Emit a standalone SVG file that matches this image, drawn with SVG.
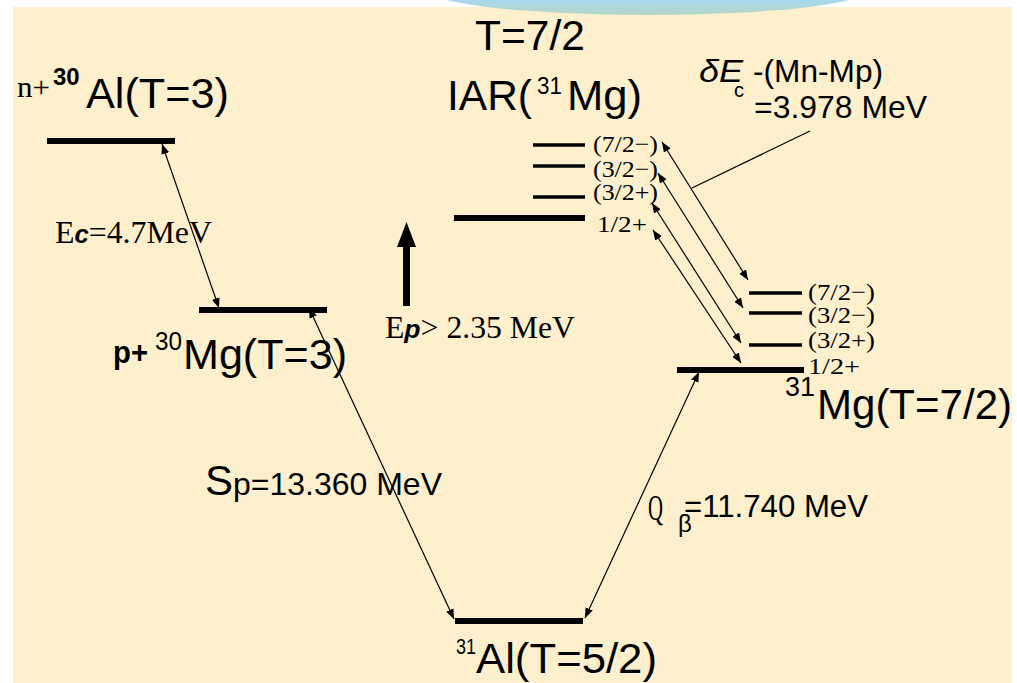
<svg xmlns="http://www.w3.org/2000/svg" width="1017" height="683" viewBox="0 0 1017 683">
<defs>
<linearGradient id="blueg" x1="0" y1="0" x2="0" y2="1">
<stop offset="0" stop-color="#9ed8fa"/>
<stop offset="0.7" stop-color="#a6d8f0"/>
<stop offset="1" stop-color="#b6d6c6"/>
</linearGradient>
<marker id="ah" viewBox="0 0 10 8" refX="10" refY="4" markerWidth="10" markerHeight="8" markerUnits="userSpaceOnUse" orient="auto-start-reverse">
<path d="M0,0 L10,4 L0,8 z" fill="#000"/>
</marker>
<style>
.sans{font-family:"Liberation Sans",Arial,sans-serif;fill:#000}
.serif{font-family:"Liberation Serif","Times New Roman",serif;fill:#000}
.big{font-size:43px}
.lvl{stroke:#000;stroke-width:6}
.sub{stroke:#000;stroke-width:3.5}
.spin{font-family:"Liberation Serif","Times New Roman",serif;font-size:24px;fill:#000}
.con{stroke:#000;stroke-width:1.2;fill:none;marker-start:url(#ah);marker-end:url(#ah)}
</style>
</defs>
<rect x="0" y="0" width="1017" height="683" fill="#ffffff"/>
<rect x="13" y="7" width="999" height="676" fill="#fff0cd"/>
<ellipse cx="648" cy="-11" rx="222" ry="26" fill="url(#blueg)"/>

<g id="connectors">
<line class="con" x1="162" y1="144" x2="219" y2="308"/>
<line class="con" x1="309" y1="308" x2="454" y2="619"/>
<line class="con" x1="585" y1="618" x2="699" y2="372"/>
<line class="con" x1="662" y1="142" x2="748" y2="280"/>
<line class="con" x1="658" y1="173" x2="743" y2="308"/>
<line class="con" x1="652" y1="203" x2="741" y2="343"/>
<line class="con" x1="653" y1="230" x2="741" y2="363"/>
<line x1="810" y1="131" x2="692" y2="188" stroke="#000" stroke-width="1.2"/>
</g>

<g id="n30Al">
<line class="lvl" x1="47" y1="141" x2="175" y2="141"/>
<text class="serif" x="17" y="97" font-size="30" textLength="33" lengthAdjust="spacingAndGlyphs">n+</text>
<text class="sans" x="53" y="85" font-size="24" font-weight="bold">30</text>
<text class="sans big" x="86" y="108" textLength="143" lengthAdjust="spacingAndGlyphs">Al(T=3)</text>
</g>

<g id="p30Mg">
<line class="lvl" x1="199" y1="310" x2="327" y2="310"/>
<text class="sans" x="113" y="363" font-size="31" font-weight="bold" textLength="35" lengthAdjust="spacingAndGlyphs">p+</text>
<text class="sans" x="155" y="350" font-size="25" textLength="27" lengthAdjust="spacingAndGlyphs">30</text>
<text class="sans big" x="183" y="369" textLength="164" lengthAdjust="spacingAndGlyphs">Mg(T=3)</text>
</g>

<g id="ec-label">
<text class="serif" x="55" y="243" font-size="31" textLength="157" lengthAdjust="spacingAndGlyphs">E<tspan class="sans" font-weight="bold" font-style="italic" font-size="25">c</tspan>=4.7MeV</text>
</g>

<g id="IAR">
<text class="sans" x="475" y="50" font-size="43" textLength="110" lengthAdjust="spacingAndGlyphs">T=7/2</text>
<text class="sans big" x="447" y="110" textLength="85" lengthAdjust="spacingAndGlyphs">IAR(</text>
<text class="sans" x="537" y="94" font-size="23" textLength="25" lengthAdjust="spacingAndGlyphs">31</text>
<text class="sans big" x="567" y="110" textLength="75" lengthAdjust="spacingAndGlyphs">Mg)</text>
<line class="sub" x1="533" y1="145" x2="585" y2="145"/>
<line class="sub" x1="533" y1="166" x2="585" y2="166"/>
<line class="sub" x1="533" y1="197" x2="585" y2="197"/>
<line class="lvl" x1="454" y1="218" x2="585" y2="218"/>
<text class="spin" x="593" y="152" textLength="65" lengthAdjust="spacingAndGlyphs">(7/2−)</text>
<text class="spin" x="593" y="177" textLength="65" lengthAdjust="spacingAndGlyphs">(3/2−)</text>
<text class="spin" x="593" y="200" textLength="65" lengthAdjust="spacingAndGlyphs">(3/2+)</text>
<text class="spin" x="597" y="232" textLength="50" lengthAdjust="spacingAndGlyphs">1/2+</text>
</g>

<g id="Ep-arrow">
<rect x="403" y="246" width="7" height="60" fill="#000"/>
<path d="M397,247 L406.5,222 L416,247 z" fill="#000"/>
<text class="serif" x="385" y="338" font-size="31" textLength="190" lengthAdjust="spacingAndGlyphs">E<tspan class="sans" font-weight="bold" font-style="italic" font-size="26">p</tspan>&gt; 2.35 MeV</text>
</g>

<g id="dEc">
<text class="sans" x="699" y="82" font-size="32" font-style="italic" textLength="44" lengthAdjust="spacingAndGlyphs">δE</text>
<text class="sans" x="734" y="97" font-size="20">c</text>
<text class="sans" x="753" y="82" font-size="32" textLength="130" lengthAdjust="spacingAndGlyphs">-(Mn-Mp)</text>
<text class="sans" x="754" y="118" font-size="32" textLength="173" lengthAdjust="spacingAndGlyphs">=3.978 MeV</text>
</g>

<g id="Mg31">
<line class="sub" x1="749" y1="293" x2="802" y2="293"/>
<line class="sub" x1="749" y1="313" x2="802" y2="313"/>
<line class="sub" x1="749" y1="345" x2="802" y2="345"/>
<line class="lvl" x1="677" y1="370" x2="804" y2="370"/>
<text class="spin" x="808" y="300" textLength="67" lengthAdjust="spacingAndGlyphs">(7/2−)</text>
<text class="spin" x="808" y="323" textLength="67" lengthAdjust="spacingAndGlyphs">(3/2−)</text>
<text class="spin" x="808" y="348" textLength="67" lengthAdjust="spacingAndGlyphs">(3/2+)</text>
<text class="spin" x="808" y="374" textLength="52" lengthAdjust="spacingAndGlyphs">1/2+</text>
<text class="sans" x="785" y="396" font-size="27" textLength="30" lengthAdjust="spacingAndGlyphs">31</text>
<text class="sans big" x="817" y="419" textLength="195" lengthAdjust="spacingAndGlyphs">Mg(T=7/2)</text>
</g>

<g id="Sp-label">
<text class="sans" x="205" y="495" font-size="42">S</text>
<text class="sans" x="233" y="495" font-size="32" textLength="209" lengthAdjust="spacingAndGlyphs">p=13.360 MeV</text>
</g>

<g id="Qb-label">
<text class="serif" x="648" y="520" font-size="36" textLength="15" lengthAdjust="spacingAndGlyphs">Q</text>
<text class="sans" x="678" y="532" font-size="24">β</text>
<text class="sans" x="684" y="517" font-size="31" textLength="184" lengthAdjust="spacingAndGlyphs">=11.740 MeV</text>
</g>

<g id="Al31">
<line class="lvl" x1="455" y1="621" x2="583" y2="621"/>
<text class="sans" x="456" y="654" font-size="22" textLength="20" lengthAdjust="spacingAndGlyphs">31</text>
<text class="sans big" x="476" y="673" textLength="181" lengthAdjust="spacingAndGlyphs">Al(T=5/2)</text>
</g>
</svg>
